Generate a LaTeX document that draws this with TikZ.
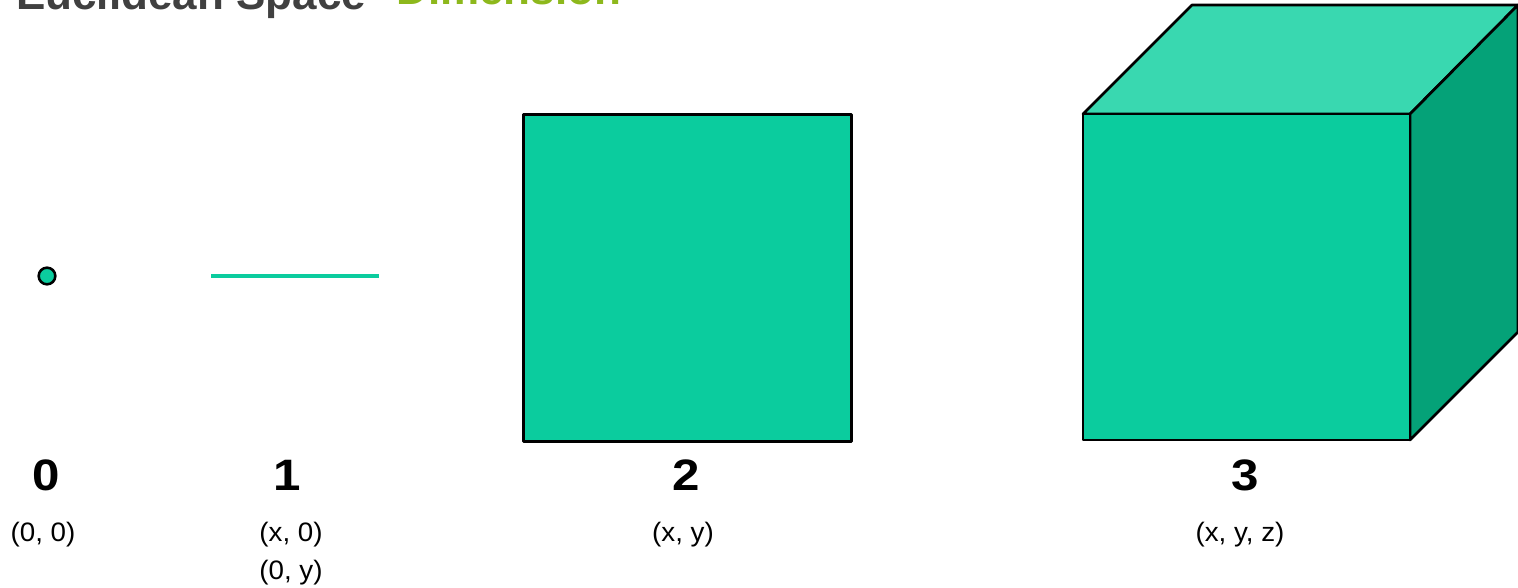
\documentclass[tikz,border=0pt]{standalone}
\usepackage{fontspec}
\setmainfont{Liberation Sans}
\definecolor{facemain}{HTML}{0BCC9E}
\definecolor{facetop}{HTML}{39D8B0}
\definecolor{faceside}{HTML}{05A278}
\definecolor{titlegray}{HTML}{404040}
\definecolor{titlegreen}{HTML}{8DB81C}
\newcommand{\wide}[1]{\scalebox{1.12}[1]{#1}}
\newcommand{\wider}[1]{\scalebox{1.04}[1]{#1}}
\tikzset{
  face/.style={draw=black, line width=2pt, line join=round},
  digit/.style={anchor=base, inner sep=0pt, font=\fontsize{33}{40}\selectfont\bfseries},
  coord/.style={anchor=base, inner sep=0pt, font=\fontsize{20}{24}\selectfont},
  ttl/.style={anchor=base west, inner sep=0pt, font=\fontsize{33}{40}\selectfont\bfseries}
}
\begin{document}
\begin{tikzpicture}[x=0.75pt,y=-0.75pt]
\useasboundingbox (0,0) rectangle (1518,588);
\clip (0,0) rectangle (1518,588);
% title (cut off at the top)
\node[ttl, text=titlegray] (t1) at (16,10) {Euclidean Space};
\node[ttl, text=titlegreen] (t2) at (396,5) {Dimension};
% dimension 0
\node[circle, draw=black, line width=1.9pt, fill=facemain, minimum size=12.5pt, inner sep=0pt] (pt) at (47,276) {};
% dimension 1
\coordinate (la) at (211,276);
\coordinate (lb) at (379,276);
\draw[facemain, line width=3pt] (la) -- (lb);
% dimension 2
\node[face, fill=facemain, anchor=north west, minimum width=246pt, minimum height=245.25pt, inner sep=0pt] (sq) at (522,113) {};
% dimension 3
\coordinate (fa) at (1083,114);
\coordinate (fb) at (1410,114);
\coordinate (fc) at (1410,440);
\coordinate (fd) at (1083,440);
\coordinate (ba) at (1192,5);
\coordinate (bb) at (1518,5);
\coordinate (bc) at (1518,332);
\draw[face, fill=facetop] (fa) -- (ba) -- (bb) -- (fb) -- cycle;
\draw[face, fill=faceside] (fb) -- (bb) -- (bc) -- (fc) -- cycle;
\draw[face, fill=facemain] (fa) -- (fb) -- (fc) -- (fd) -- cycle;
% labels
\node[digit] (d0) at (46,490) {\wide{0}};
\node[digit] (d1) at (287,490) {\wide{1}};
\node[digit] (d2) at (686,490) {\wide{2}};
\node[digit] (d3) at (1245,490) {\wide{3}};
\node[coord] (c0) at (43,541) {\wider{(0, 0)}};
\node[coord] (c1a) at (291,541) {\wider{(x, 0)}};
\node[coord] (c1b) at (291,579) {\wider{(0, y)}};
\node[coord] (c2) at (683,541) {\wider{(x, y)}};
\node[coord] (c3) at (1240,541) {\wider{(x, y, z)}};
\end{tikzpicture}
\end{document}
